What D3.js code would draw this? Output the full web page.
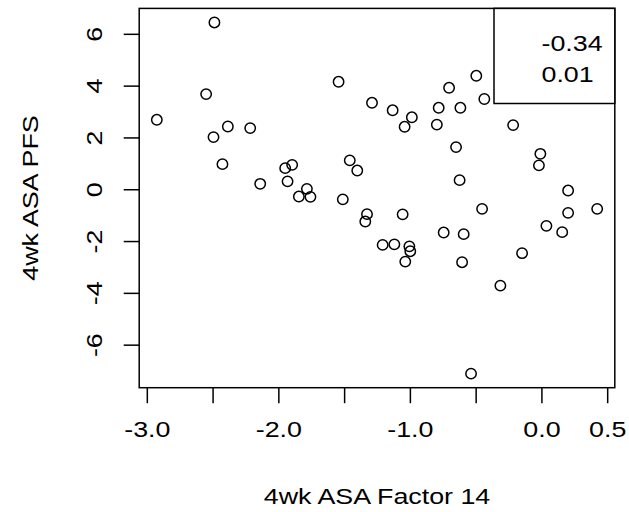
<!DOCTYPE html>
<html>
<head>
<meta charset="utf-8">
<script src="https://cdn.jsdelivr.net/npm/d3@7"></script>
<style>
  body { margin: 0; background: #fff; }
  svg text { font-family: "Liberation Sans", Arial, Helvetica, sans-serif; fill: #000; }
</style>
</head>
<body>
<svg id="chart" width="629" height="512"></svg>
<script>
// 4-week ASA Factor 14 score against 4-week ASA PFS, one point per subject
const factor14 = [
  -2.486, -2.549, -2.924, -2.384, -2.214, -2.493, -2.425, -1.948, -1.895, -1.930,
  -2.138, -1.783, -1.844, -1.756, -1.510, -1.542, -1.288, -1.457, -1.400, -1.326,
  -1.339, -1.131, -0.985, -1.040, -0.781, -0.702, -0.616, -0.495, -0.434, -0.795,
  -0.215, -0.649, -0.008, -0.019, -0.622,  0.203, -1.055, -0.451,  0.203,  0.424,
  -1.207, -1.118, -1.004, -0.997, -1.035, -0.743, -0.591, -0.603, -0.147,  0.038,
   0.158, -0.312, -0.535
];
const pfs = [
   6.439,  3.673,  2.681,  2.422,  2.360,  2.012,  0.969,  0.815,  0.942,  0.305,
   0.209,  0.015, -0.282, -0.294, -0.390,  4.148,  3.337,  1.116,  0.722, -0.962,
  -1.248,  3.047,  2.777,  2.410,  3.144,  3.917,  3.144,  4.380,  3.484,  2.495,
   2.476,  1.626,  1.367,  0.923,  0.351, -0.050, -0.969, -0.757, -0.912, -0.757,
  -2.148, -2.128, -2.205, -2.391, -2.793, -1.672, -1.734, -2.816, -2.468, -1.414,
  -1.657, -3.720, -7.119
];

const xTicks = [-3, -2.5, -2, -1.5, -1, -0.5, 0, 0.5];
const xTickLabels = ["-3.0", "", "-2.0", "", "-1.0", "", "0.0", "0.5"];
const yTicks = [-6, -4, -2, 0, 2, 4, 6];
const yTickLabels = ["-6", "-4", "-2", "0", "2", "4", "6"];
const legendLines = ["-0.34", "0.01"];
const xTitle = "4wk ASA Factor 14";
const yTitle = "4wk ASA PFS";

// plotting region (box) in pixels
const box = { left: 139.2, right: 614.8, top: 8.4, bottom: 387.7 };
const fontSize = 22;
const widen = 1.22;   // glyphs are drawn wider than the stock face

// pad the data range by 4% on each side
function padded(values) {
  const [lo, hi] = d3.extent(values);
  const pad = (hi - lo) * 0.04;
  return [lo - pad, hi + pad];
}

const x = d3.scaleLinear().domain(padded(factor14)).range([box.left, box.right]);
const y = d3.scaleLinear().domain(padded(pfs)).range([box.bottom, box.top]);

const svg = d3.select("#chart");

// points
svg.append("g")
  .selectAll("circle")
  .data(factor14.map((v, i) => [v, pfs[i]]))
  .join("circle")
  .attr("cx", d => x(d[0]))
  .attr("cy", d => y(d[1]))
  .attr("r", 5.2)
  .attr("fill", "none")
  .attr("stroke", "#000")
  .attr("stroke-width", 1.5);

// bottom axis
const gx = svg.append("g")
  .attr("transform", `translate(0,${box.bottom})`)
  .call(d3.axisBottom(x)
    .tickValues(xTicks)
    .tickFormat((d, i) => xTickLabels[i])
    .tickSize(15.5));
gx.select(".domain").remove();
gx.selectAll("line").attr("stroke-width", 1.5);
gx.selectAll("text")
  .attr("font-size", fontSize)
  .attr("font-family", null)
  .attr("y", 0)
  .attr("dy", null)
  .attr("transform", `translate(0,49.5) scale(${widen},1)`);

// left axis, labels turned to run along the axis
const gy = svg.append("g")
  .attr("transform", `translate(${box.left},0)`)
  .call(d3.axisLeft(y)
    .tickValues(yTicks)
    .tickFormat(d => yTickLabels[yTicks.indexOf(d)])
    .tickSize(15.5));
gy.select(".domain").remove();
gy.selectAll("line").attr("stroke-width", 1.5);
gy.selectAll("text")
  .attr("font-size", fontSize)
  .attr("font-family", null)
  .attr("x", 0)
  .attr("y", 0)
  .attr("dy", null)
  .attr("text-anchor", "middle")
  .attr("transform", `translate(-37.5,0) rotate(-90) scale(${widen},1)`);

// frame
svg.append("rect")
  .attr("x", box.left).attr("y", box.top)
  .attr("width", box.right - box.left).attr("height", box.bottom - box.top)
  .attr("fill", "none").attr("stroke", "#000").attr("stroke-width", 1.5);

// axis titles
svg.append("text")
  .attr("transform", `translate(${(box.left + box.right) / 2},504) scale(${widen},1)`)
  .attr("text-anchor", "middle")
  .attr("font-size", fontSize)
  .text(xTitle);

svg.append("text")
  .attr("transform", `translate(38,${(box.top + box.bottom) / 2}) rotate(-90) scale(${widen},1)`)
  .attr("text-anchor", "middle")
  .attr("font-size", fontSize)
  .text(yTitle);

// legend in the top-right corner
const legend = svg.append("g");
legend.append("rect")
  .attr("x", 494).attr("y", box.top)
  .attr("width", box.right - 494).attr("height", 103.5 - box.top)
  .attr("fill", "#fff").attr("stroke", "#000").attr("stroke-width", 1.5);
legend.selectAll("text")
  .data(legendLines)
  .join("text")
  .attr("transform", (d, i) => `translate(541.5,${50.7 + i * 31}) scale(${widen},1)`)
  .attr("font-size", fontSize)
  .text(d => d);
</script>
</body>
</html>
